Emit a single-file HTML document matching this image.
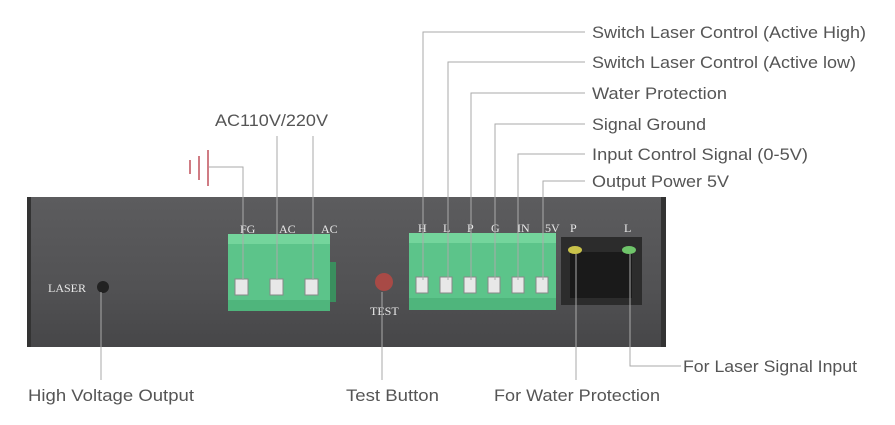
<!DOCTYPE html>
<html><head><meta charset="utf-8"><style>
body{margin:0;background:#fff}
svg{display:block}
text{font-family:"Liberation Sans",sans-serif;fill:#555}
.s{font-family:"Liberation Serif",serif;fill:#e8e8e8;font-size:12px}
</style></head><body>
<svg width="895" height="425" viewBox="0 0 895 425">
<defs>
<linearGradient id="pg" x1="0" y1="0" x2="0" y2="1">
<stop offset="0" stop-color="#5c5c5e"/><stop offset="0.6" stop-color="#525254"/><stop offset="1" stop-color="#464648"/></linearGradient>
</defs>
<rect x="27" y="197" width="639" height="150" fill="url(#pg)"/>
<rect x="27" y="197" width="4" height="150" fill="#333"/>
<rect x="661" y="197" width="5" height="150" fill="#333"/>
<rect x="228" y="234" width="102" height="77" fill="#5cc48a"/>
<rect x="228" y="234" width="102" height="10" fill="#74d59c"/>
<rect x="228" y="300" width="102" height="11" fill="#4fb57c"/>
<rect x="330" y="262" width="6" height="40" fill="#3a8f5e"/>
<g fill="#e8e8e8" stroke="#888" stroke-width="1">
<rect x="235" y="279" width="13" height="16"/><rect x="270" y="279" width="13" height="16"/><rect x="305" y="279" width="13" height="16"/>
</g>
<rect x="409" y="233" width="147" height="77" fill="#5cc48a"/>
<rect x="409" y="233" width="147" height="10" fill="#74d59c"/>
<rect x="409" y="298" width="147" height="12" fill="#4fb57c"/>
<g fill="#e8e8e8" stroke="#888" stroke-width="1">
<rect x="416" y="277" width="12" height="16"/><rect x="440" y="277" width="12" height="16"/><rect x="464" y="277" width="12" height="16"/><rect x="488" y="277" width="12" height="16"/><rect x="512" y="277" width="12" height="16"/><rect x="536" y="277" width="12" height="16"/>
</g>
<rect x="561" y="237" width="81" height="68" fill="#2c2c2c"/>
<rect x="570" y="252" width="62" height="46" fill="#1a1a1a"/>
<ellipse cx="575" cy="250" rx="7" ry="4" fill="#c9c24a"/>
<ellipse cx="629" cy="250" rx="7" ry="4" fill="#6fc46a"/>
<circle cx="384" cy="282" r="9" fill="#a84a46"/>
<circle cx="103" cy="287" r="6" fill="#222"/>
<text class="s" x="240" y="233">FG</text><text class="s" x="279" y="233">AC</text><text class="s" x="321" y="233">AC</text>
<text class="s" x="418" y="232">H</text><text class="s" x="443" y="232">L</text><text class="s" x="467" y="232">P</text><text class="s" x="491" y="232">G</text><text class="s" x="517" y="232">IN</text><text class="s" x="545" y="232">5V</text>
<text class="s" x="570" y="232">P</text><text class="s" x="624" y="232">L</text>
<text class="s" x="48" y="292">LASER</text>
<text class="s" x="370" y="315">TEST</text>
<g stroke="#aaa" stroke-width="1" fill="none">
<polyline points="423,280 423,32 585,32"/>
<polyline points="448,280 448,62 585,62"/>
<polyline points="471,280 471,93 585,93"/>
<polyline points="495,280 495,124 585,124"/>
<polyline points="518,280 518,154 585,154"/>
<polyline points="543,280 543,181 585,181"/>
<polyline points="243,280 243,167 209,167"/>
<line x1="277" y1="136" x2="277" y2="280"/>
<line x1="313" y1="136" x2="313" y2="280"/>
<line x1="101" y1="292" x2="101" y2="380"/>
<line x1="382" y1="292" x2="382" y2="380"/>
<line x1="576" y1="254" x2="576" y2="380"/>
<polyline points="630,254 630,366 681,366"/>
</g>
<g stroke="#c0505a" stroke-width="1.5">
<line x1="190" y1="160" x2="190" y2="174"/><line x1="199" y1="156" x2="199" y2="180"/><line x1="208" y1="150" x2="208" y2="186"/>
</g>
<g font-size="17" lengthAdjust="spacingAndGlyphs">
<text x="215" y="126" textLength="113" lengthAdjust="spacingAndGlyphs">AC110V/220V</text>
<text x="592" y="38" textLength="274" lengthAdjust="spacingAndGlyphs">Switch Laser Control (Active High)</text>
<text x="592" y="68" textLength="264" lengthAdjust="spacingAndGlyphs">Switch Laser Control (Active low)</text>
<text x="592" y="99" textLength="135" lengthAdjust="spacingAndGlyphs">Water Protection</text>
<text x="592" y="130" textLength="114" lengthAdjust="spacingAndGlyphs">Signal Ground</text>
<text x="592" y="160" textLength="216" lengthAdjust="spacingAndGlyphs">Input Control Signal (0-5V)</text>
<text x="592" y="187" textLength="137" lengthAdjust="spacingAndGlyphs">Output Power 5V</text>
<text x="683" y="372" textLength="174" lengthAdjust="spacingAndGlyphs">For Laser Signal Input</text>
<text x="28" y="401" textLength="166" lengthAdjust="spacingAndGlyphs">High Voltage Output</text>
<text x="346" y="401" textLength="93" lengthAdjust="spacingAndGlyphs">Test Button</text>
<text x="494" y="401" textLength="166" lengthAdjust="spacingAndGlyphs">For Water Protection</text>
</g>
</svg>
</body></html>
